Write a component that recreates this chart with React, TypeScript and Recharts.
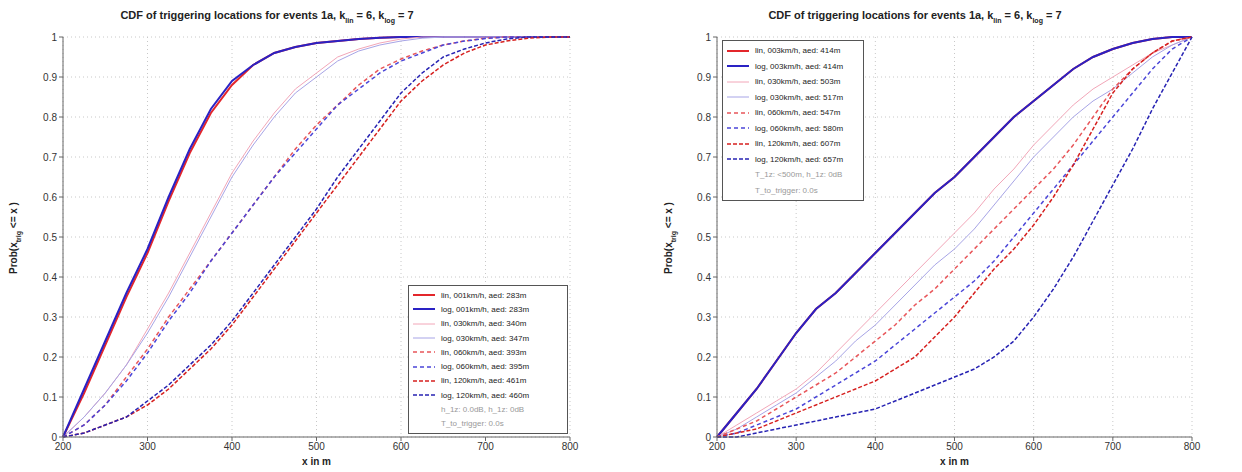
import {
  LineChart,
  Line,
  XAxis,
  YAxis,
  CartesianGrid,
  Label,
} from 'recharts'

const XS = [200, 225, 250, 275, 300, 325, 350, 375, 400, 425, 450, 475, 500, 525, 550, 575, 600, 625, 650, 675, 700, 725, 750, 775, 800]
const X_TICKS = [200, 300, 400, 500, 600, 700, 800]
const Y_TICKS = [0, 0.1, 0.2, 0.3, 0.4, 0.5, 0.6, 0.7, 0.8, 0.9, 1]

// left panel
const L_LIN_001 = [0, 0.11, 0.23, 0.35, 0.46, 0.59, 0.71, 0.81, 0.88, 0.93, 0.96, 0.975, 0.985, 0.99, 0.995, 0.998, 1, 1, 1, 1, 1, 1, 1, 1, 1]
const L_LOG_001 = [0, 0.12, 0.24, 0.36, 0.47, 0.6, 0.72, 0.82, 0.89, 0.93, 0.96, 0.975, 0.985, 0.99, 0.995, 0.998, 1, 1, 1, 1, 1, 1, 1, 1, 1]
const L_LIN_030 = [0, 0.05, 0.11, 0.18, 0.27, 0.36, 0.46, 0.56, 0.66, 0.74, 0.81, 0.87, 0.91, 0.95, 0.97, 0.985, 0.995, 1, 1, 1, 1, 1, 1, 1, 1]
const L_LOG_030 = [0, 0.05, 0.11, 0.18, 0.26, 0.35, 0.45, 0.55, 0.65, 0.73, 0.8, 0.86, 0.9, 0.94, 0.965, 0.98, 0.99, 0.997, 1, 1, 1, 1, 1, 1, 1]
const L_LIN_060 = [0, 0.03, 0.08, 0.15, 0.22, 0.3, 0.37, 0.44, 0.51, 0.58, 0.65, 0.72, 0.78, 0.83, 0.88, 0.92, 0.945, 0.965, 0.98, 0.99, 0.997, 1, 1, 1, 1]
const L_LOG_060 = [0, 0.03, 0.08, 0.14, 0.21, 0.29, 0.36, 0.44, 0.51, 0.58, 0.65, 0.71, 0.77, 0.83, 0.87, 0.91, 0.94, 0.96, 0.98, 0.99, 0.996, 1, 1, 1, 1]
const L_LIN_120 = [0, 0.01, 0.03, 0.05, 0.08, 0.12, 0.17, 0.22, 0.28, 0.35, 0.42, 0.49, 0.56, 0.63, 0.7, 0.77, 0.84, 0.89, 0.93, 0.96, 0.98, 0.99, 0.997, 1, 1]
const L_LOG_120 = [0, 0.01, 0.03, 0.05, 0.09, 0.13, 0.18, 0.23, 0.29, 0.36, 0.43, 0.5, 0.57, 0.65, 0.72, 0.79, 0.86, 0.91, 0.95, 0.97, 0.985, 0.995, 1, 1, 1]

const L_NAMES = [
  'lin, 001km/h, aed: 283m',
  'log, 001km/h, aed: 283m',
  'lin, 030km/h, aed: 340m',
  'log, 030km/h, aed: 347m',
  'lin, 060km/h, aed: 393m',
  'log, 060km/h, aed: 395m',
  'lin, 120km/h, aed: 461m',
  'log, 120km/h, aed: 460m',
]
const L_NOTES = ['h_1z: 0.0dB, h_1z: 0dB', 'T_to_trigger: 0.0s']

// right panel
const R_LIN_003 = [0, 0.06, 0.12, 0.19, 0.26, 0.32, 0.36, 0.41, 0.46, 0.51, 0.56, 0.61, 0.65, 0.7, 0.75, 0.8, 0.84, 0.88, 0.92, 0.95, 0.97, 0.985, 0.995, 1, 1]
const R_LOG_003 = [0, 0.06, 0.12, 0.19, 0.26, 0.32, 0.36, 0.41, 0.46, 0.51, 0.56, 0.61, 0.65, 0.7, 0.75, 0.8, 0.84, 0.88, 0.92, 0.95, 0.97, 0.985, 0.995, 1, 1]
const R_LIN_030 = [0, 0.03, 0.06, 0.09, 0.12, 0.16, 0.21, 0.26, 0.31, 0.36, 0.41, 0.46, 0.51, 0.56, 0.62, 0.67, 0.73, 0.78, 0.83, 0.87, 0.9, 0.93, 0.96, 0.98, 1]
const R_LOG_030 = [0, 0.02, 0.05, 0.08, 0.11, 0.15, 0.19, 0.24, 0.28, 0.33, 0.38, 0.43, 0.47, 0.52, 0.58, 0.64, 0.7, 0.75, 0.8, 0.84, 0.87, 0.91, 0.95, 0.98, 1]
const R_LIN_060 = [0, 0.02, 0.04, 0.07, 0.1, 0.13, 0.16, 0.2, 0.24, 0.28, 0.33, 0.37, 0.42, 0.47, 0.52, 0.57, 0.62, 0.67, 0.73, 0.8, 0.87, 0.92, 0.96, 0.99, 1]
const R_LOG_060 = [0, 0.01, 0.03, 0.05, 0.07, 0.1, 0.13, 0.16, 0.19, 0.23, 0.27, 0.31, 0.35, 0.39, 0.44, 0.5, 0.56, 0.62, 0.68, 0.74, 0.8, 0.86, 0.92, 0.97, 1]
const R_LIN_120 = [0, 0.01, 0.02, 0.04, 0.06, 0.08, 0.1, 0.12, 0.14, 0.17, 0.2, 0.25, 0.3, 0.36, 0.42, 0.47, 0.53, 0.6, 0.68, 0.77, 0.86, 0.92, 0.96, 0.99, 1]
const R_LOG_120 = [0, 0, 0.01, 0.02, 0.03, 0.04, 0.05, 0.06, 0.07, 0.09, 0.11, 0.13, 0.15, 0.17, 0.2, 0.24, 0.3, 0.37, 0.45, 0.54, 0.63, 0.72, 0.82, 0.91, 1]

const R_NAMES = [
  'lin, 003km/h, aed: 414m',
  'log, 003km/h, aed: 414m',
  'lin, 030km/h, aed: 503m',
  'log, 030km/h, aed: 517m',
  'lin, 060km/h, aed: 547m',
  'log, 060km/h, aed: 580m',
  'lin, 120km/h, aed: 607m',
  'log, 120km/h, aed: 657m',
]
const R_NOTES = ['T_1z: <500m, h_1z: 0dB', 'T_to_trigger: 0.0s']

// line looks, same order in both panels
const STYLES = [
  { color: '#e3262b', width: 2, dash: undefined },
  { color: '#2a22c4', width: 2, dash: undefined },
  { color: '#f2a6b8', width: 1, dash: undefined },
  { color: '#a7a4e6', width: 1, dash: undefined },
  { color: '#e8565a', width: 1.5, dash: '4 3' },
  { color: '#4b46d8', width: 1.5, dash: '4 3' },
  { color: '#d6201f', width: 1.5, dash: '4 2' },
  { color: '#2723b3', width: 1.5, dash: '4 2' },
]

const FONT = 'Liberation Sans, Arial, sans-serif'

function buildRows(series: number[][]) {
  return XS.map((x, i) => {
    const row: Record<string, number> = { x }
    series.forEach((s, k) => {
      row['s' + k] = s[i]
    })
    return row
  })
}

const fmtY = (v: number) => (v === 0 || v === 1 ? String(v) : v.toFixed(1))

function Title({ x }: { x: number }) {
  return (
    <text x={x} y={19} textAnchor="middle" fontSize={11} fontWeight="bold" fill="#222" fontFamily={FONT}>
      CDF of triggering locations for events 1a, k
      <tspan dy={4} fontSize={7}>lin</tspan>
      <tspan dy={-4}> = 6, k</tspan>
      <tspan dy={4} fontSize={7}>log</tspan>
      <tspan dy={-4}> = 7</tspan>
    </text>
  )
}

function LegendBox({ names, notes, width, rowH }: { names: string[]; notes: string[]; width: number; rowH: number }) {
  return (
    <div
      style={{
        width,
        border: '1px solid #555',
        background: '#fff',
        padding: '2px 3px',
        fontFamily: FONT,
        fontSize: 8,
        color: '#222',
        boxSizing: 'border-box',
      }}
    >
      {names.map((n, i) => (
        <div key={n} style={{ height: rowH, display: 'flex', alignItems: 'center', whiteSpace: 'nowrap' }}>
          <svg width={24} height={6} style={{ marginRight: 5 }}>
            <line
              x1={1}
              y1={3}
              x2={23}
              y2={3}
              stroke={STYLES[i].color}
              strokeWidth={STYLES[i].width}
              strokeDasharray={STYLES[i].dash}
            />
          </svg>
          <span>{n}</span>
        </div>
      ))}
      {notes.map((n) => (
        <div key={n} style={{ height: rowH, display: 'flex', alignItems: 'center', paddingLeft: 29, color: '#999', whiteSpace: 'nowrap' }}>
          {n}
        </div>
      ))}
    </div>
  )
}

type PanelProps = {
  width: number
  marginLeft: number
  series: number[][]
  ylabelX: number
}

function Panel({ width, marginLeft, series, ylabelX }: PanelProps) {
  const rows = buildRows(series)
  const plotLeft = marginLeft + 30
  const plotRight = width - 50
  const mid = (plotLeft + plotRight) / 2
  return (
    <LineChart width={width} height={472} data={rows} margin={{ top: 37, right: 50, bottom: 15, left: marginLeft }}>
      <CartesianGrid stroke="#c8c8c8" strokeDasharray="1 3" />
      <XAxis
        dataKey="x"
        type="number"
        domain={[200, 800]}
        ticks={X_TICKS}
        tick={{ fill: '#333', fontSize: 10, fontFamily: FONT }}
        tickLine={{ stroke: '#666' }}
        tickSize={4}
        axisLine={{ stroke: '#666' }}
        height={20}
      >
        <Label
          content={() => (
            <text x={mid} y={465} textAnchor="middle" fontSize={10} fontWeight="bold" fill="#222" fontFamily={FONT}>
              x in m
            </text>
          )}
        />
      </XAxis>
      <XAxis xAxisId="top" orientation="top" dataKey="x" type="number" domain={[200, 800]} tick={false} tickLine={false} axisLine={{ stroke: '#999' }} height={0} />
      <YAxis
        type="number"
        domain={[0, 1]}
        ticks={Y_TICKS}
        tickFormatter={fmtY}
        tick={{ fill: '#333', fontSize: 10, fontFamily: FONT }}
        tickLine={{ stroke: '#666' }}
        tickSize={4}
        axisLine={{ stroke: '#666' }}
        width={30}
      >
        <Label
          content={() => (
            <text
              x={ylabelX}
              y={238}
              textAnchor="middle"
              fontSize={10}
              fontWeight="bold"
              fill="#222"
              fontFamily={FONT}
              transform={`rotate(-90 ${ylabelX} 238)`}
            >
              Prob(x
              <tspan dy={4} fontSize={7}>trig</tspan>
              <tspan dy={-4}> {'<='} x )</tspan>
            </text>
          )}
        />
      </YAxis>
      <YAxis yAxisId="right" orientation="right" domain={[0, 1]} tick={false} tickLine={false} axisLine={{ stroke: '#999' }} width={0} />
      {series.map((_, k) => (
        <Line
          key={k}
          dataKey={'s' + k}
          type="linear"
          stroke={STYLES[k].color}
          strokeWidth={STYLES[k].width}
          strokeDasharray={STYLES[k].dash}
          dot={false}
          isAnimationActive={false}
        />
      ))}
    </LineChart>
  )
}

export default function App() {
  const leftSeries = [L_LIN_001, L_LOG_001, L_LIN_030, L_LOG_030, L_LIN_060, L_LOG_060, L_LIN_120, L_LOG_120]
  const rightSeries = [R_LIN_003, R_LOG_003, R_LIN_030, R_LOG_030, R_LIN_060, R_LOG_060, R_LIN_120, R_LOG_120]
  return (
    <div style={{ position: 'absolute', left: 0, top: 0, width: 1242, height: 472, background: '#fff', fontFamily: FONT }}>
      <div style={{ position: 'absolute', left: 0, top: 0, width: 620, height: 472 }}>
        <Panel width={620} marginLeft={33} series={leftSeries} ylabelX={17} />
        <svg width={620} height={30} style={{ position: 'absolute', left: 0, top: 0 }}>
          <Title x={267} />
        </svg>
        <div style={{ position: 'absolute', left: 408, top: 285 }}>
          <LegendBox names={L_NAMES} notes={L_NOTES} width={160} rowH={14.3} />
        </div>
      </div>
      <div style={{ position: 'absolute', left: 620, top: 0, width: 622, height: 472 }}>
        <Panel width={622} marginLeft={67} series={rightSeries} ylabelX={52} />
        <svg width={622} height={30} style={{ position: 'absolute', left: 0, top: 0 }}>
          <Title x={295} />
        </svg>
        <div style={{ position: 'absolute', left: 102, top: 40 }}>
          <LegendBox names={R_NAMES} notes={R_NOTES} width={142} rowH={15.5} />
        </div>
      </div>
    </div>
  )
}
